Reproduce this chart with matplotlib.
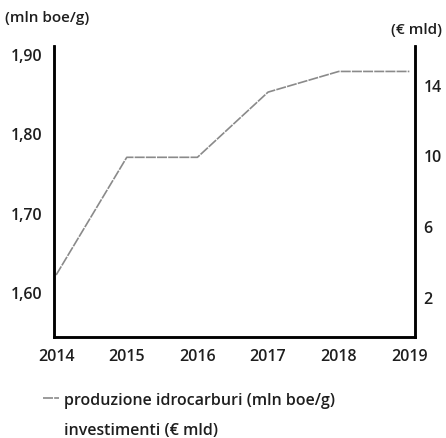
import matplotlib.pyplot as plt
from matplotlib.lines import Line2D

years = [2014, 2015, 2016, 2017, 2018, 2019]
produzione = [1.622, 1.770, 1.770, 1.852, 1.878, 1.878]
left_ticks = [1.60, 1.70, 1.80, 1.90]
left_labels = ["1,60", "1,70", "1,80", "1,90"]
right_ticks = [2, 6, 10, 14]

plt.rcParams['font.family'] = ['Open Sans', 'DejaVu Sans']
plt.rcParams['font.weight'] = 'semibold'

fig = plt.figure(figsize=(4.46, 4.39), dpi=100)
ax = fig.add_axes([54 / 446, 1 - 338 / 439, (415 - 54) / 446, (338 - 47) / 439])
ax2 = ax.twinx()

line_style = (0, (6, 0.7))
ax.plot(years, produzione, color='#8a8a8a', lw=1.2, ls=line_style)

ax.set_xlim(2013.97, 2019.08)
ax.set_ylim(1.544, 1.910)
ax2.set_ylim(-0.28, 16.2)

ax.set_xticks(years)
ax.set_xticklabels([str(y) for y in years])
ax.set_yticks(left_ticks)
ax.set_yticklabels(left_labels)
ax2.set_yticks(right_ticks)

for a in (ax, ax2):
    a.spines['top'].set_visible(False)
    for s in ('left', 'right', 'bottom'):
        a.spines[s].set_linewidth(1.8)
    a.tick_params(length=0, labelsize=11.5, colors='#1e1e1e')
ax.tick_params(axis='x', pad=8)
ax.tick_params(axis='y', pad=8)
ax2.tick_params(axis='y', pad=6)

fig.text(5 / 446, 1 - 18 / 439, "(mln boe/g)", fontsize=11, va='center', ha='left', color='#1e1e1e')
fig.text(442 / 446, 1 - 30 / 439, "(€ mld)", fontsize=11, va='center', ha='right', color='#1e1e1e')

handles = [Line2D([], [], color='#8a8a8a', lw=1.2, ls=line_style),
           Line2D([], [], color='none')]
fig.legend(handles, ["produzione idrocarburi (mln boe/g)", "investimenti (€ mld)"],
           loc='upper left', bbox_to_anchor=(30 / 446, 1 - 380 / 439), frameon=False,
           fontsize=11.5, handlelength=1.0, handletextpad=0.3, labelspacing=0.9,
           borderpad=0.3, labelcolor='#1e1e1e')

fig.savefig("out.png", dpi=100, facecolor='white')
